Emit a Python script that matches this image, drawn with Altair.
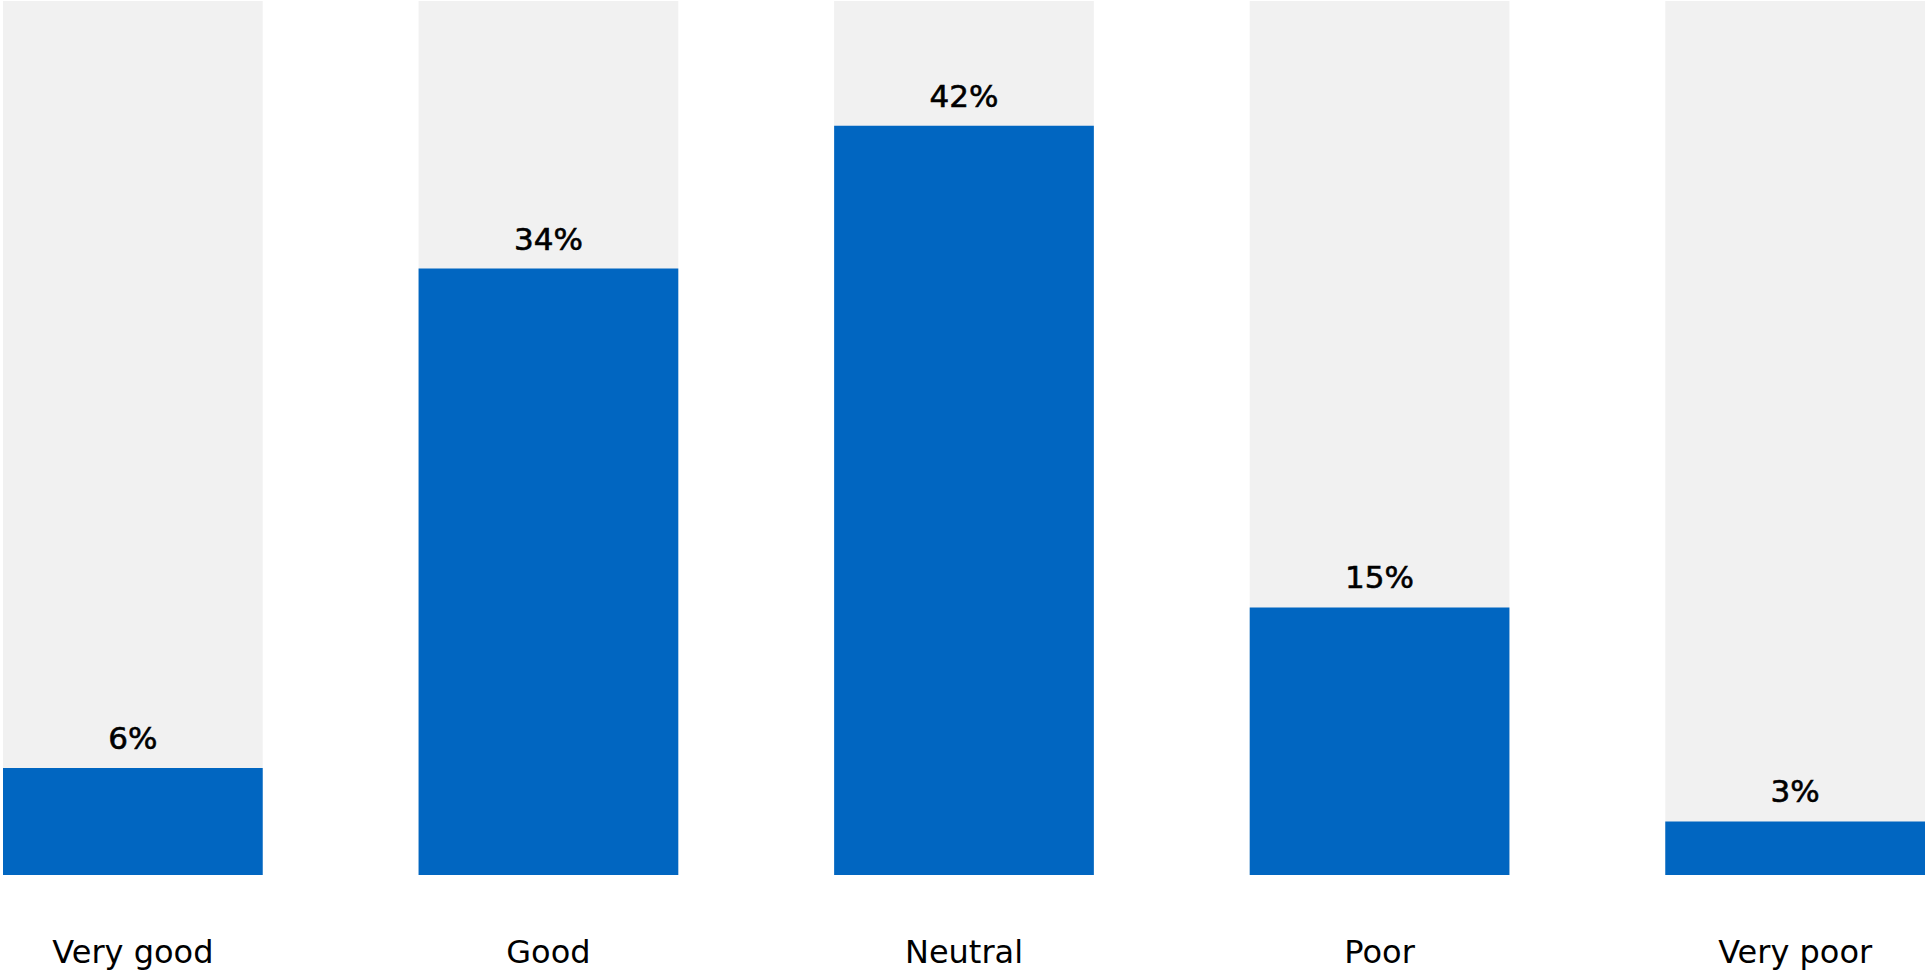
import altair as alt
import pandas as pd

categories = ["Very good", "Good", "Neutral", "Poor", "Very poor"]
values = [6, 34, 42, 15, 3]
labels = ["6%", "34%", "42%", "15%", "3%"]
track_max = 49

df = pd.DataFrame({
    "category": categories,
    "value": values,
    "label": labels,
    "track": [track_max] * len(categories),
})

FONT = "DejaVu Sans"
BLUE = "#0166C1"
GREY = "#F1F1F1"

x_enc = alt.X(
    "category:N",
    sort=categories,
    scale=alt.Scale(paddingInner=0.375, paddingOuter=0),
    axis=alt.Axis(
        title=None, labelAngle=0, ticks=False, tickSize=0, domain=False, grid=False,
        labelPadding=87, labelBaseline="alphabetic", labelFontSize=32,
        labelColor="#000000", labelFont=FONT, labelFontWeight="normal",
        labelOverlap=False,
    ),
)
y_scale = alt.Scale(domain=[0, track_max], nice=False, zero=True)

base = alt.Chart(df).encode(x=x_enc)

track = base.mark_bar(color=GREY).encode(
    y=alt.Y("track:Q", scale=y_scale, axis=None),
)
bars = base.mark_bar(color=BLUE).encode(
    y=alt.Y("value:Q", scale=y_scale, axis=None),
)
text = base.mark_text(
    dy=-19, baseline="alphabetic", align="center", fontSize=31,
    fontWeight=500, font=FONT, color="#000000", stroke="#000000", strokeWidth=0.6,
).encode(
    y=alt.Y("value:Q", scale=y_scale, axis=None),
    text="label:N",
)

chart = alt.layer(track, bars, text).properties(
    width=1922,
    height=874,
    autosize=alt.AutoSizeParams(type="none"),
    padding={"left": 3, "top": 1, "right": 2, "bottom": 97},
).configure(
    background="white",
    view=alt.ViewConfig(stroke="transparent", strokeWidth=0),
)

chart.save("out.html", embed_options={"renderer": "svg", "actions": False})
